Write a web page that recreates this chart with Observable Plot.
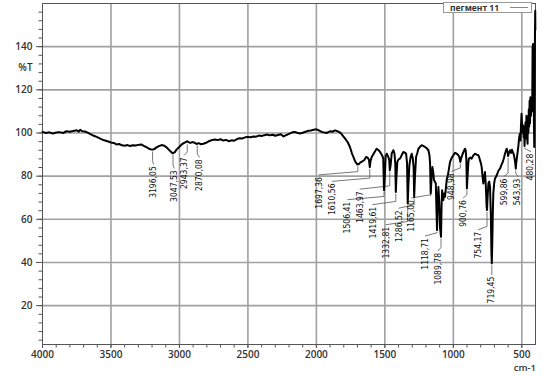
<!DOCTYPE html>
<html>
<head>
<meta charset="utf-8">
<script src="https://cdn.jsdelivr.net/npm/d3@7"></script>
<script src="https://cdn.jsdelivr.net/npm/@observablehq/plot@0.6"></script>
<style>
  html, body { margin: 0; padding: 0; background: #fff; }
  #wrap { position: relative; width: 546px; height: 376px; }
  #legend { position: absolute; left: 443px; top: 2px; width: 89px; height: 11px; box-sizing: border-box;
    border: 1px solid #999; background: #fff; font: 700 8.5px "Open Sans", sans-serif; color: #333;
    display: flex; align-items: center; padding-left: 6px; }
  #legend .sw { display: inline-block; width: 18px; height: 0; border-top: 1px solid #888; margin-left: 11px; }
</style>
</head>
<body>
<div id="wrap"><div id="legend"><span>пегмент 11</span><span class="sw"></span></div></div>
<script>
const seriesName = "пегмент 11";
const xTicks = [4000, 3500, 3000, 2500, 2000, 1500, 1000, 500];
const yTicks = [20, 40, 60, 80, 100, 120, 140];

const wavenumber = [4000,3975,3950,3925,3900,3875,3850,3825,3800,3775,3750,3735,3725,3710,3690,3670,3650,3625,3600,3575,3550,3525,3500,3480,3460,3440,3420,3400,3380,3360,3340,3320,3300,3280,3260,3240,3220,3200,3185,3170,3150,3130,3110,3090,3070,3050,3035,3020,3000,2985,2970,2955,2945,2935,2920,2905,2890,2875,2860,2845,2825,2800,2780,2760,2740,2720,2700,2680,2660,2640,2620,2600,2580,2560,2540,2520,2500,2480,2460,2440,2420,2400,2380,2360,2340,2320,2300,2280,2260,2240,2220,2200,2180,2160,2140,2120,2100,2080,2060,2040,2020,2000,1985,1970,1955,1940,1925,1910,1895,1880,1865,1850,1835,1820,1805,1790,1770,1755,1740,1730,1715,1700,1690,1680,1665,1650,1637,1625,1616,1610,1604,1596,1580,1560,1545,1535,1520,1512,1506,1500,1494,1486,1475,1468,1464,1458,1450,1438,1430,1424,1420,1415,1409,1400,1389,1375,1365,1352,1345,1338,1333,1328,1321,1312,1304,1296,1290,1286,1280,1272,1262,1255,1243,1231,1219,1207,1195,1182,1174,1170,1165,1160,1153,1147,1141,1135,1128,1123,1119,1114,1109,1103,1097,1090,1086,1082,1077,1073,1067,1061,1055,1048,1040,1036,1024,1012,1000,988,975,965,956,949,942,931,922,915,910,905,901,896,890,886,876,866,855,842,830,817,810,805,798,793,787,781,776,769,763,757,754,750,744,738,732,726,722,719,716,712,708,702,696,690,683,671,659,650,639,630,623,616,610,604,600,595,586,578,572,565,560,554,548,544,540,535,530,525,520,515,510,506,502,498,494,490,486,483,480,477,473,470,466,462,458,455,452,449,446,443,440,437,433,430,427,424,421,418,415,412,409,406,404,402,401];
const transmittance = [100.5,100.0,100.3,99.8,100.2,100.4,100.0,100.8,100.6,100.9,101.3,100.6,101.5,100.8,100.7,100.2,99.5,98.7,98.1,97.3,96.6,96.2,95.6,95.4,94.7,94.9,94.3,94.1,94.4,94.0,94.3,94.2,94.5,94.7,94.0,93.4,92.6,92.3,92.5,93.2,93.9,94.4,94.1,93.1,91.8,90.6,91.0,92.4,93.6,94.6,95.3,95.7,96.2,95.8,95.4,95.8,95.5,94.9,95.3,94.8,95.0,95.6,96.3,96.8,97.0,96.7,97.1,96.5,96.8,96.2,96.6,96.4,97.2,97.6,97.5,98.0,98.2,98.0,98.4,98.3,98.8,98.6,99.0,99.3,98.9,99.2,98.7,99.1,99.4,98.4,99.0,99.6,100.2,100.5,100.1,99.8,100.1,100.6,101.0,101.2,101.5,101.7,101.3,100.8,100.4,100.2,100.0,100.5,100.8,100.6,101.2,100.9,100.5,99.8,98.6,97.4,95.6,93.5,90.5,88.9,86.6,85.4,85.6,86.3,86.8,87.5,88.9,88.6,87.5,84.2,87.2,88.9,90.6,92.7,92.0,91.2,89.6,88.2,73.5,80.0,89.4,90.4,89.0,87.5,82.7,85.0,90.5,92.0,90.6,86.0,72.7,80.0,86.6,87.8,88.1,90.0,91.2,90.8,90.4,86.0,67.3,76.0,85.0,88.8,90.4,88.2,84.0,70.4,80.0,88.9,91.0,92.7,93.6,94.3,94.0,93.5,93.0,92.0,89.5,86.0,72.0,78.0,84.2,82.0,78.1,77.5,76.6,64.0,55.0,68.0,75.0,68.0,56.0,51.9,66.0,73.5,70.0,68.9,72.0,70.4,74.0,78.5,80.5,81.9,86.6,88.5,89.7,90.8,90.4,89.8,88.9,86.6,88.5,90.4,91.8,92.7,92.0,88.0,74.3,80.0,86.5,88.1,88.6,88.1,89.5,90.4,90.0,89.7,88.5,87.3,85.8,84.2,80.0,76.6,79.0,81.9,76.0,66.0,64.3,70.0,76.6,77.5,75.0,62.0,45.0,39.6,48.0,62.0,72.0,76.5,78.9,79.5,80.4,82.5,83.5,85.0,86.6,88.5,90.4,91.8,92.7,91.0,89.3,90.5,92.0,90.8,92.2,91.0,90.4,88.6,86.0,83.5,86.5,88.9,91.5,94.0,97.5,99.5,96.5,103.5,108.9,104.0,100.0,103.5,98.0,101.0,94.0,100.5,105.0,97.5,108.0,99.0,95.0,107.5,100.0,111.0,103.0,115.0,104.5,116.6,108.0,116.6,110.0,112.0,139.7,141.2,125.0,107.3,93.5,120.0,145.0,156.6,148.0];

const peakLabels = ["3196,05","3047,53","2943,37","2870,08","1697,36","1610,56","1506,41","1463,97","1419,61","1332,81","1286,52","1165,00","1118,71","1089,78","948,98","900,76","754,17","719,45","599,86","543,93","480,28"];
const peakWn = [3196,3047,2943,2870,1697,1610,1506,1464,1420,1333,1286,1165,1119,1090,949,901,754,719,600,544,480];
const peakT = [92.3,90.7,95.5,95.0,85.4,84.2,73.5,82.7,72.7,67.3,70.4,72.0,55.0,51.9,86.6,74.3,64.3,39.6,89.3,83.5,94.0];
const labelWn = [3190,3039,2964,2854,1980,1883,1771,1681,1588,1491,1396,1304,1204,1112,1012,927,818,720,630,530,435];
const labelT = [84.6,82.7,88.7,87.8,79.6,76.6,68.1,73.0,65.8,56.5,64.2,68.9,51.3,44.4,81.3,68.9,54.2,33.4,78.9,78.9,90.4];

const spectrum = wavenumber.map((w, i) => ({w, t: transmittance[i]}));
const peaks = peakLabels.map((label, i) => ({label, pw: peakWn[i], pt: peakT[i], lw: labelWn[i], lt: labelT[i]}));
const leaders = peaks.flatMap(p => [
  {id: p.label, x: p.pw, y: p.pt - 1},
  {id: p.label, x: p.pw, y: p.lt + 2.5},
  {id: p.label, x: p.lw, y: p.lt + 1}
]);

const tickFont = "'Open Sans', sans-serif";
const peakFont = "'Liberation Sans Narrow', 'DejaVu Sans Condensed', sans-serif";

const chart = Plot.plot({
  width: 546,
  height: 376,
  marginLeft: 42,
  marginRight: 11,
  marginTop: 3,
  marginBottom: 32,
  style: {background: "#fff", fontFamily: tickFont, overflow: "visible"},
  x: {type: "linear", domain: [4000, 400], label: null},
  y: {domain: [2, 160], label: null},
  marks: [
    Plot.ruleX(xTicks.filter(d => d !== 4000), {stroke: "#a0a0a0", strokeWidth: 1.6}),
    Plot.ruleY(yTicks, {stroke: "#a0a0a0", strokeWidth: 1.6}),
    Plot.axisX(d3.range(500, 4001, 100), {tickSize: 3.5, text: null, stroke: "#555"}),
    Plot.axisX(xTicks, {tickSize: 4, tickPadding: 2.5, fontSize: 10, fontWeight: 600, fill: "#333", stroke: "#555", tickFormat: d => String(d)}),
    Plot.axisY(d3.range(4, 160, 4), {tickSize: 3.5, text: null, stroke: "#555"}),
    Plot.axisY(yTicks, {tickSize: 6, tickPadding: 4, fontSize: 10, fontWeight: 600, fill: "#333", stroke: "#555"}),
    Plot.frame({stroke: "#555", strokeWidth: 1}),
    Plot.text(["%T"], {x: 4000, y: 130.4, dx: -17, fontSize: 10, fontWeight: 600, fill: "#333"}),
    Plot.text(["cm-1"], {x: 500, frameAnchor: "bottom", dx: 3, dy: 26, fontSize: 9.5, fontWeight: 600, fill: "#333"}),
    Plot.line(leaders, {x: "x", y: "y", z: "id", stroke: "#555", strokeWidth: 0.8}),
    Plot.line(spectrum, {x: "w", y: "t", stroke: "#000", strokeWidth: 2, strokeLinejoin: "round"}),
    Plot.text(peaks, {x: "lw", y: "lt", text: "label", rotate: -90, textAnchor: "end", lineAnchor: "middle", fontSize: 8.5, fontFamily: peakFont, fill: "#111"})
  ]
});
document.getElementById("wrap").prepend(chart);
</script>
</body>
</html>
